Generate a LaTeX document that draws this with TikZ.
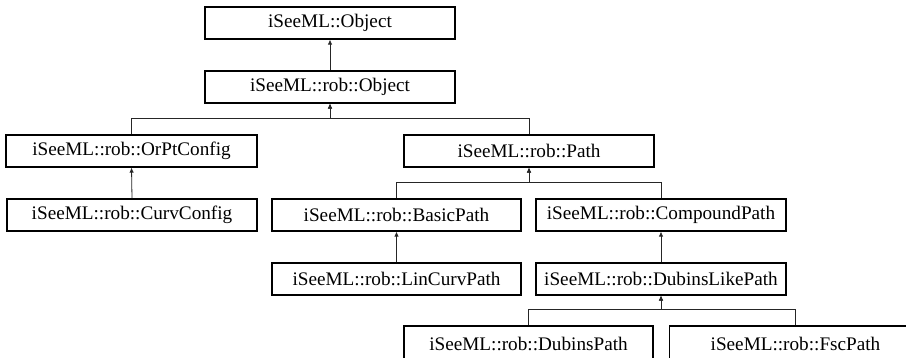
\documentclass[tikz,border=0pt]{standalone}
\usepackage{fontspec}
\setmainfont{Liberation Serif}
\usetikzlibrary{arrows.meta}
\begin{document}
\begin{tikzpicture}[x=1pt,y=-1pt,
  cls/.style={draw=black, line width=1.2pt, fill=white, rectangle, inner sep=0pt,
    minimum height=32pt, font=\fontsize{19.2}{23}\selectfont},
  w250/.style={minimum width=250pt},
  conn/.style={draw=black!85, line width=0.8pt, -{Latex[length=5pt,width=4.5pt]}}]
\useasboundingbox (0,0) rectangle (906,357);
\clip (0,0) rectangle (906,357);
\fill[white] (0,0) rectangle (906,357);
\node[cls,w250] (obj) at (330,23) {iSeeML::Object};
\node[cls,w250] (robobj) at (330,87) {iSeeML::rob::Object};
\node[cls,minimum width=251pt] (orpt) at (131.5,151) {iSeeML::rob::OrPtConfig};
\node[cls,w250] (path) at (529,151) {iSeeML::rob::Path};
\node[cls,w250] (curv) at (132,215) {iSeeML::rob::CurvConfig};
\node[cls,minimum width=249pt] (basic) at (396.5,215) {iSeeML::rob::BasicPath};
\node[cls,w250] (compound) at (661,215) {iSeeML::rob::CompoundPath};
\node[cls,minimum width=249pt] (lincurv) at (396.5,279) {iSeeML::rob::LinCurvPath};
\node[cls,w250] (dubinslike) at (661,279) {iSeeML::rob::DubinsLikePath};
\node[cls,minimum width=249pt,minimum height=36pt] (dubins) at (528.5,344) {iSeeML::rob::DubinsPath};
\node[cls,minimum width=252pt,minimum height=36pt] (fsc) at (795.5,344) {iSeeML::rob::FscPath};
\draw[conn] (robobj.north) -- (obj.south);
\draw[conn] (orpt.north) -- ++(0,-16) -| (robobj.south);
\draw[conn] (path.north) -- ++(0,-16) -| (robobj.south);
\draw[conn] (curv.north) -- (orpt.south);
\draw[conn] (basic.north) -- ++(0,-16) -| (path.south);
\draw[conn] (compound.north) -- ++(0,-16) -| (path.south);
\draw[conn] (lincurv.north) -- (basic.south);
\draw[conn] (dubinslike.north) -- (compound.south);
\draw[conn] (dubins.north) -- ++(0,-16) -| (dubinslike.south);
\draw[conn] (fsc.north) -- ++(0,-16) -| (dubinslike.south);
\end{tikzpicture}
\end{document}
